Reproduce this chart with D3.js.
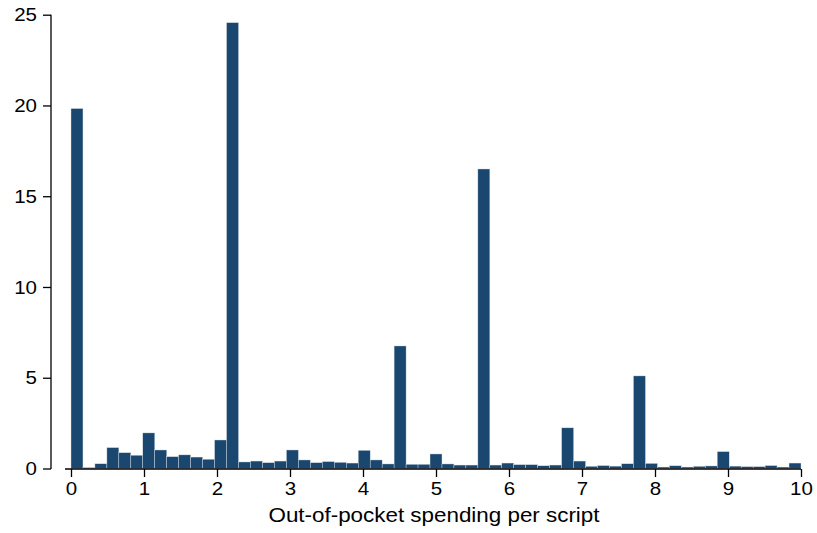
<!DOCTYPE html>
<html>
<head>
<meta charset="utf-8">
<script src="https://cdn.jsdelivr.net/npm/d3@7"></script>
<style>
  html, body { margin: 0; padding: 0; background: #ffffff; }
  svg { display: block; font-family: "Liberation Sans", Arial, sans-serif; }
</style>
</head>
<body>
<svg id="chart" width="817" height="533"></svg>
<script>
// Histogram: 61 equal-width bins over [0, 10]
const binCount = 61;
const binMin = 0;
const binMax = 10;
const percents = [
  19.83, 0.05, 0.26, 1.15, 0.87, 0.73, 1.96, 1.02, 0.65, 0.75,
  0.63, 0.51, 1.57, 24.56, 0.36, 0.41, 0.32, 0.41, 1.02, 0.47,
  0.32, 0.38, 0.34, 0.30, 1.00, 0.47, 0.25, 6.75, 0.23, 0.23,
  0.80, 0.25, 0.19, 0.19, 16.50, 0.19, 0.30, 0.21, 0.21, 0.15,
  0.19, 2.24, 0.41, 0.12, 0.16, 0.13, 0.26, 5.10, 0.28, 0.08,
  0.15, 0.08, 0.12, 0.14, 0.93, 0.13, 0.10, 0.10, 0.16, 0.08,
  0.30
];
const xTicks = [0, 1, 2, 3, 4, 5, 6, 7, 8, 9, 10];
const yTicks = [0, 5, 10, 15, 20, 25];
const xTitle = "Out-of-pocket spending per script";

const svg = d3.select("#chart");
const x = d3.scaleLinear().domain([0, 10]).range([71, 801]);
const y = d3.scaleLinear().domain([0, 25]).range([468.5, 14.7]);
const binW = (binMax - binMin) / binCount;

const bins = percents.map((v, i) => ({ x0: binMin + i * binW, x1: binMin + (i + 1) * binW, v }));

svg.append("g").selectAll("rect").data(bins).join("rect")
  .attr("x", d => x(d.x0))
  .attr("width", d => x(d.x1) - x(d.x0))
  .attr("y", d => y(d.v))
  .attr("height", d => y(0) - y(d.v))
  .attr("fill", "#1a476f")
  .attr("stroke", "#d5dde5")
  .attr("stroke-width", 0.4);

const digitW = 11.4;

// Y axis
const yAxis = svg.append("g").attr("transform", "translate(51,0)")
  .call(d3.axisLeft(y).tickValues(yTicks).tickSize(8).tickPadding(6).tickSizeOuter(0));
yAxis.select(".domain").attr("stroke", "#000").attr("stroke-width", 1.3)
  .attr("d", `M0,${y(25)}V${y(0) + 0.5}`);
yAxis.selectAll(".tick line").attr("stroke", "#000").attr("stroke-width", 1.3);
yAxis.selectAll(".tick text").attr("font-size", 19).attr("fill", "#000")
  .attr("font-family", "Liberation Sans, Arial, sans-serif")
  .attr("textLength", d => String(d).length * digitW)
  .attr("lengthAdjust", "spacingAndGlyphs");

// X axis
const xAxis = svg.append("g").attr("transform", "translate(0,469)")
  .call(d3.axisBottom(x).tickValues(xTicks).tickFormat(d3.format("d")).tickSize(8).tickPadding(5).tickSizeOuter(0));
xAxis.select(".domain").attr("stroke", "#000").attr("stroke-width", 1.3)
  .attr("d", `M${x(0) - 6},0H${x(10)}`);
xAxis.selectAll(".tick line").attr("stroke", "#000").attr("stroke-width", 1.3);
xAxis.selectAll(".tick text").attr("font-size", 19).attr("fill", "#000")
  .attr("font-family", "Liberation Sans, Arial, sans-serif")
  .attr("textLength", d => String(d).length * digitW)
  .attr("lengthAdjust", "spacingAndGlyphs");

svg.append("text")
  .attr("x", 434)
  .attr("y", 522)
  .attr("text-anchor", "middle")
  .attr("font-size", 19.5)
  .attr("fill", "#000")
  .attr("textLength", 331)
  .attr("lengthAdjust", "spacingAndGlyphs")
  .text(xTitle);
</script>
</body>
</html>
